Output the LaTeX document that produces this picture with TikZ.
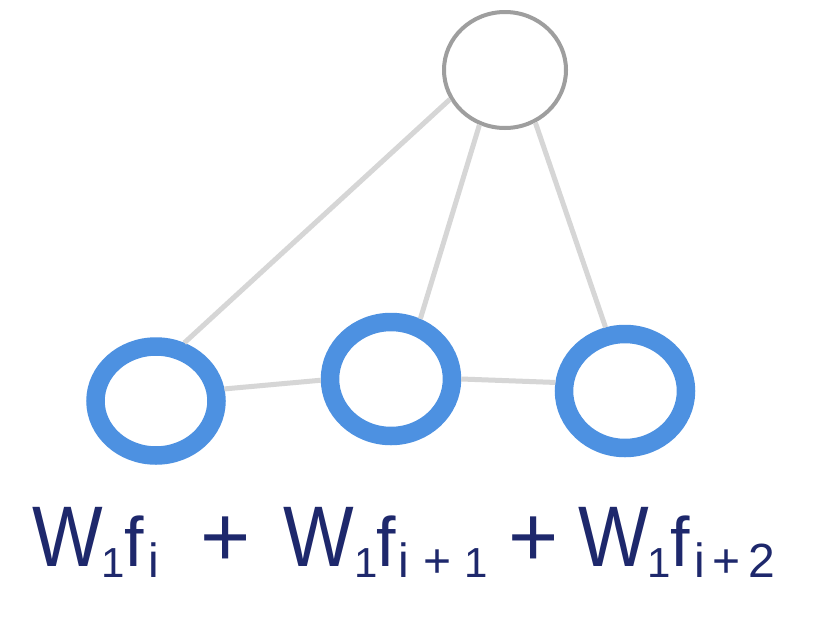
\documentclass[tikz,border=0pt]{standalone}
\usepackage{fontspec}
\setmainfont{Liberation Sans}
\usetikzlibrary{shapes.geometric}
\definecolor{ringblue}{RGB}{77,145,225}
\definecolor{ringgray}{RGB}{158,158,158}
\definecolor{edgegray}{RGB}{214,214,214}
\definecolor{navy}{RGB}{30,40,108}
\tikzset{
  ring/.style={ellipse, draw=ringblue, line width=18.5pt, fill=white, inner sep=0pt},
  topring/.style={ellipse, draw=ringgray, line width=4pt, fill=white, inner sep=0pt},
  edge/.style={draw=edgegray, line width=5pt},
  txt/.style={inner sep=0pt, outer sep=0pt, anchor=base, text=navy},
  bigW/.style={txt, font=\fontsize{86}{86}\selectfont},
  bigf/.style={txt, font=\fontsize{70}{70}\selectfont},
  bigplus/.style={txt, font=\fontsize{86}{86}\selectfont},
  subone/.style={txt, font=\fontsize{42}{42}\selectfont},
  subtxt/.style={txt, font=\fontsize{48}{48}\selectfont}
}
\begin{document}
\begin{tikzpicture}[x=1pt,y=-1pt]
\fill[white] (0,0) rectangle (830,640);
\useasboundingbox (0,0) rectangle (830,640);
% nodes
\node[topring, minimum width=122pt, minimum height=116pt] (top) at (505,70) {};
\node[ring, minimum width=121pt, minimum height=109pt] (n1) at (156,401) {};
\node[ring, minimum width=122pt, minimum height=114pt] (n2) at (391,379) {};
\node[ring, minimum width=122pt, minimum height=114pt] (n3) at (625,391) {};
% connectors
\draw[edge] (n1.64) -- (top.208);
\draw[edge] (n2.64) -- (top.245);
\draw[edge] (n3.107) -- (top.300);
\draw[edge] (n1.10) -- (n2.181);
\draw[edge] (n2.0) -- (n3.173);
% formula: term 1
\node[bigW] (w1) at (68,566) {\scalebox{0.87}[1]{W}};
\node[subone] (w1s) at (113,577) {1};
\node[bigf] (f1) at (134,566) {f};
\node[subtxt] (f1s) at (154,577) {i};
\node[bigplus] (p1) at (226,566) {+};
% term 2
\node[bigW] (w2) at (319,566) {\scalebox{0.87}[1]{W}};
\node[subone] (w2s) at (366,577) {1};
\node[bigf] (f2) at (386.5,566) {f};
\node[subtxt] (f2s) at (403.5,577) {i};
\node[subtxt] (f2p) at (437.5,577) {+};
\node[subone] (f2n) at (476.5,577) {1};
\node[bigplus] (p2) at (534,566) {+};
% term 3
\node[bigW] (w3) at (614,566) {\scalebox{0.87}[1]{W}};
\node[subone] (w3s) at (659,577) {1};
\node[bigf] (f3) at (680.5,566) {f};
\node[subtxt] (f3s) at (700,577) {i};
\node[subtxt] (f3p) at (726.5,577) {+};
\node[subtxt] (f3n) at (761.5,577) {2};
\end{tikzpicture}
\end{document}
